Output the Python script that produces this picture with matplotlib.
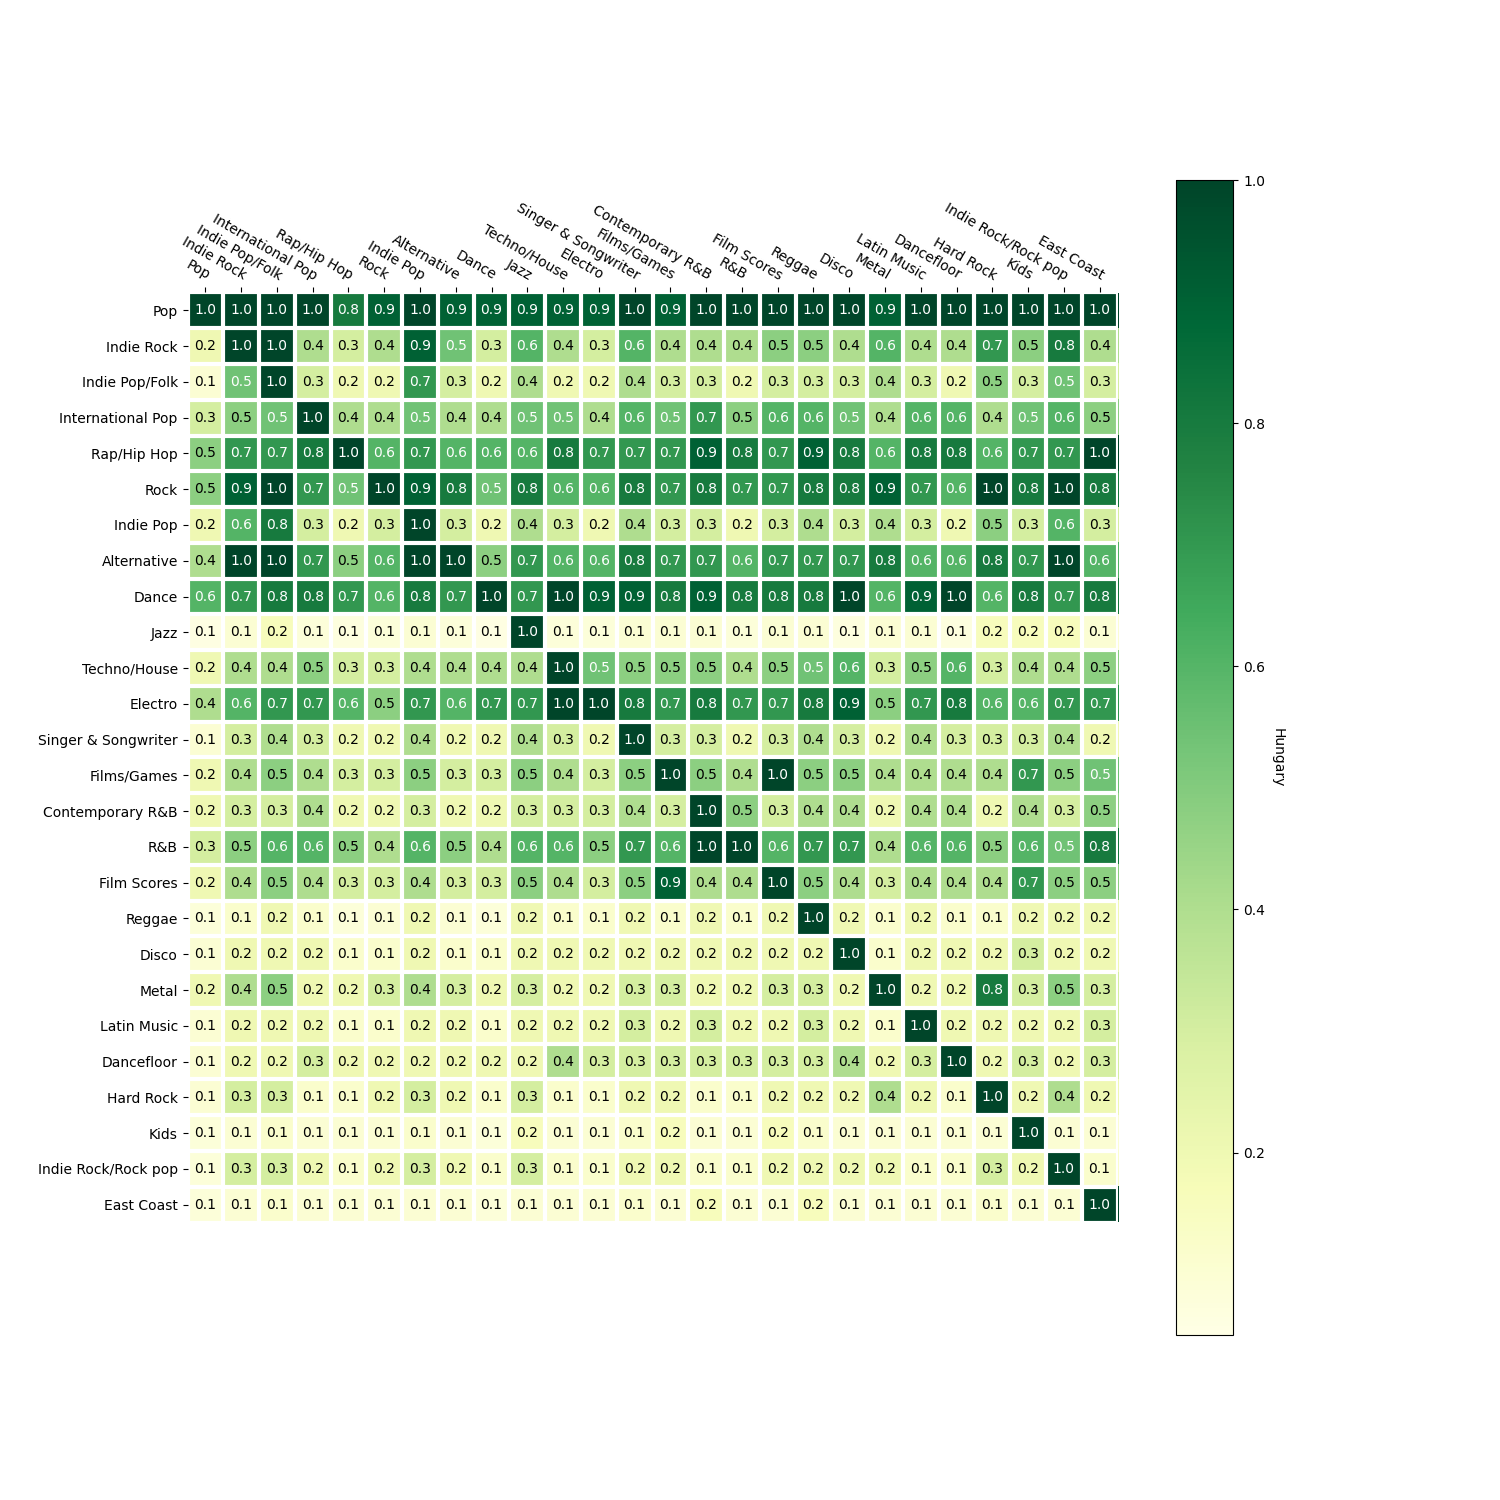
import matplotlib
matplotlib.use("Agg")
import matplotlib.pyplot as plt
import numpy as np

# genre co-listening similarity, Hungary
genres = ["Pop", "Indie Rock", "Indie Pop/Folk", "International Pop", "Rap/Hip Hop",
          "Rock", "Indie Pop", "Alternative", "Dance", "Jazz", "Techno/House",
          "Electro", "Singer & Songwriter", "Films/Games", "Contemporary R&B",
          "R&B", "Film Scores", "Reggae", "Disco", "Metal", "Latin Music",
          "Dancefloor", "Hard Rock", "Kids", "Indie Rock/Rock pop", "East Coast"]

# one list per row (0.54 -> "0.5" on dark cell, 0.48 -> "0.5" on light cell)
pop = [1.0, 1.0, 1.0, 1.0, 0.8, 0.9, 1.0, 0.9, 0.9, 0.9, 0.9, 0.9, 1.0,
       0.9, 1.0, 1.0, 1.0, 1.0, 1.0, 0.9, 1.0, 1.0, 1.0, 1.0, 1.0, 1.0]
indie_rock = [0.2, 1.0, 1.0, 0.4, 0.3, 0.4, 0.9, 0.54, 0.3, 0.6, 0.4, 0.3, 0.6,
              0.4, 0.4, 0.4, 0.48, 0.48, 0.4, 0.6, 0.4, 0.4, 0.7, 0.48, 0.8, 0.4]
indie_pop_folk = [0.1, 0.54, 1.0, 0.3, 0.2, 0.2, 0.7, 0.3, 0.2, 0.4, 0.2, 0.2, 0.4,
                  0.3, 0.3, 0.2, 0.3, 0.3, 0.3, 0.4, 0.3, 0.2, 0.48, 0.3, 0.54, 0.3]
international_pop = [0.3, 0.48, 0.54, 1.0, 0.4, 0.4, 0.54, 0.4, 0.4, 0.54, 0.54, 0.4, 0.6,
                     0.54, 0.7, 0.48, 0.6, 0.6, 0.54, 0.4, 0.6, 0.6, 0.4, 0.54, 0.6, 0.48]
rap_hip_hop = [0.48, 0.7, 0.7, 0.8, 1.0, 0.6, 0.7, 0.6, 0.6, 0.6, 0.8, 0.7, 0.7,
               0.7, 0.9, 0.8, 0.7, 0.9, 0.8, 0.6, 0.8, 0.8, 0.6, 0.7, 0.7, 1.0]
rock = [0.48, 0.9, 1.0, 0.7, 0.54, 1.0, 0.9, 0.8, 0.54, 0.8, 0.6, 0.6, 0.8,
        0.7, 0.8, 0.7, 0.7, 0.8, 0.8, 0.9, 0.7, 0.6, 1.0, 0.8, 1.0, 0.8]
indie_pop = [0.2, 0.6, 0.8, 0.3, 0.2, 0.3, 1.0, 0.3, 0.2, 0.4, 0.3, 0.2, 0.4,
             0.3, 0.3, 0.2, 0.3, 0.4, 0.3, 0.4, 0.3, 0.2, 0.48, 0.3, 0.6, 0.3]
alternative = [0.4, 1.0, 1.0, 0.7, 0.48, 0.6, 1.0, 1.0, 0.48, 0.7, 0.6, 0.6, 0.8,
               0.7, 0.7, 0.6, 0.7, 0.7, 0.7, 0.8, 0.6, 0.6, 0.8, 0.7, 1.0, 0.6]
dance = [0.6, 0.7, 0.8, 0.8, 0.7, 0.6, 0.8, 0.7, 1.0, 0.7, 1.0, 0.9, 0.9,
         0.8, 0.9, 0.8, 0.8, 0.8, 1.0, 0.6, 0.9, 1.0, 0.6, 0.8, 0.7, 0.8]
jazz = [0.06, 0.1, 0.16, 0.08, 0.07, 0.08, 0.1, 0.08, 0.06, 1.0, 0.08, 0.08, 0.1,
        0.1, 0.1, 0.08, 0.1, 0.1, 0.07, 0.1, 0.1, 0.07, 0.16, 0.16, 0.16, 0.1]
techno_house = [0.2, 0.4, 0.4, 0.48, 0.3, 0.3, 0.4, 0.4, 0.4, 0.4, 1.0, 0.54, 0.48,
                0.48, 0.48, 0.4, 0.48, 0.54, 0.6, 0.3, 0.48, 0.6, 0.3, 0.4, 0.4, 0.48]
electro = [0.4, 0.6, 0.7, 0.7, 0.6, 0.48, 0.7, 0.6, 0.7, 0.7, 1.0, 1.0, 0.8,
           0.7, 0.8, 0.7, 0.7, 0.8, 0.9, 0.48, 0.7, 0.8, 0.6, 0.6, 0.7, 0.7]
singer_songwriter = [0.1, 0.3, 0.4, 0.3, 0.2, 0.2, 0.4, 0.2, 0.2, 0.4, 0.3, 0.2, 1.0,
                     0.3, 0.3, 0.2, 0.3, 0.4, 0.3, 0.2, 0.4, 0.3, 0.3, 0.3, 0.4, 0.2]
films_games = [0.2, 0.4, 0.48, 0.4, 0.3, 0.3, 0.48, 0.3, 0.3, 0.48, 0.4, 0.3, 0.48,
               1.0, 0.48, 0.4, 1.0, 0.48, 0.48, 0.4, 0.4, 0.4, 0.4, 0.7, 0.48, 0.54]
contemporary_rnb = [0.2, 0.3, 0.3, 0.4, 0.2, 0.2, 0.3, 0.2, 0.2, 0.3, 0.3, 0.3, 0.4,
                    0.3, 1.0, 0.48, 0.3, 0.4, 0.4, 0.2, 0.4, 0.4, 0.2, 0.4, 0.3, 0.48]
rnb = [0.3, 0.48, 0.6, 0.6, 0.48, 0.4, 0.6, 0.48, 0.4, 0.6, 0.6, 0.48, 0.7,
       0.6, 1.0, 1.0, 0.6, 0.7, 0.7, 0.4, 0.6, 0.6, 0.48, 0.6, 0.54, 0.8]
film_scores = [0.2, 0.4, 0.48, 0.4, 0.3, 0.3, 0.4, 0.3, 0.3, 0.48, 0.4, 0.3, 0.48,
               0.9, 0.4, 0.4, 1.0, 0.48, 0.4, 0.3, 0.4, 0.4, 0.4, 0.7, 0.48, 0.48]
reggae = [0.08, 0.12, 0.2, 0.12, 0.08, 0.1, 0.2, 0.1, 0.08, 0.2, 0.12, 0.12, 0.2,
          0.12, 0.2, 0.12, 0.2, 1.0, 0.2, 0.12, 0.2, 0.12, 0.12, 0.2, 0.2, 0.2]
disco = [0.1, 0.2, 0.2, 0.2, 0.12, 0.12, 0.2, 0.12, 0.12, 0.2, 0.2, 0.2, 0.2,
         0.2, 0.2, 0.2, 0.2, 0.2, 1.0, 0.12, 0.2, 0.2, 0.2, 0.3, 0.2, 0.2]
metal = [0.2, 0.4, 0.48, 0.2, 0.2, 0.3, 0.4, 0.3, 0.2, 0.3, 0.2, 0.2, 0.3,
         0.3, 0.2, 0.2, 0.3, 0.3, 0.2, 1.0, 0.2, 0.2, 0.8, 0.3, 0.48, 0.3]
latin_music = [0.1, 0.2, 0.2, 0.2, 0.12, 0.12, 0.2, 0.2, 0.12, 0.2, 0.2, 0.2, 0.3,
               0.2, 0.3, 0.2, 0.2, 0.3, 0.2, 0.12, 1.0, 0.2, 0.2, 0.2, 0.2, 0.3]
dancefloor = [0.1, 0.2, 0.2, 0.3, 0.2, 0.2, 0.2, 0.2, 0.2, 0.2, 0.4, 0.3, 0.3,
              0.3, 0.3, 0.3, 0.3, 0.3, 0.4, 0.2, 0.3, 1.0, 0.2, 0.3, 0.2, 0.3]
hard_rock = [0.1, 0.3, 0.3, 0.12, 0.12, 0.2, 0.3, 0.2, 0.12, 0.3, 0.12, 0.12, 0.2,
             0.2, 0.12, 0.12, 0.2, 0.2, 0.2, 0.4, 0.2, 0.12, 1.0, 0.2, 0.4, 0.2]
kids = [0.08, 0.1, 0.12, 0.1, 0.1, 0.1, 0.12, 0.1, 0.08, 0.16, 0.1, 0.1, 0.12,
        0.16, 0.1, 0.1, 0.16, 0.12, 0.1, 0.1, 0.1, 0.1, 0.1, 1.0, 0.1, 0.1]
indie_rock_rock_pop = [0.08, 0.3, 0.3, 0.2, 0.12, 0.2, 0.3, 0.2, 0.12, 0.3, 0.12, 0.12, 0.2,
                       0.2, 0.12, 0.12, 0.2, 0.2, 0.2, 0.2, 0.12, 0.12, 0.3, 0.2, 1.0, 0.12]
east_coast = [0.08, 0.1, 0.12, 0.1, 0.1, 0.1, 0.1, 0.1, 0.08, 0.1, 0.1, 0.1, 0.12,
              0.1, 0.16, 0.1, 0.1, 0.16, 0.1, 0.1, 0.1, 0.1, 0.12, 0.1, 0.1, 1.0]

data = np.array([pop, indie_rock, indie_pop_folk, international_pop, rap_hip_hop,
                 rock, indie_pop, alternative, dance, jazz, techno_house, electro,
                 singer_songwriter, films_games, contemporary_rnb, rnb, film_scores,
                 reggae, disco, metal, latin_music, dancefloor, hard_rock, kids,
                 indie_rock_rock_pop, east_coast])


def heatmap(data, row_labels, col_labels, ax, cbarlabel=""):
    im = ax.imshow(data, cmap="YlGn", vmin=0.05, vmax=1.0)

    cbar = ax.figure.colorbar(im, ax=ax)
    cbar.ax.set_ylabel(cbarlabel, rotation=-90, va="bottom")

    ax.set_xticks(np.arange(data.shape[1]), labels=col_labels)
    ax.set_yticks(np.arange(data.shape[0]), labels=row_labels)

    # labels on top, tilted
    ax.tick_params(top=True, bottom=False, labeltop=True, labelbottom=False)
    plt.setp(ax.get_xticklabels(), rotation=-30, ha="right", rotation_mode="anchor")

    ax.spines[:].set_visible(False)
    ax.set_xticks(np.arange(data.shape[1] + 1) - .5, minor=True)
    ax.set_yticks(np.arange(data.shape[0] + 1) - .5, minor=True)
    ax.grid(which="minor", color="w", linestyle="-", linewidth=3)
    ax.tick_params(which="minor", bottom=False, left=False)
    return im, cbar


def annotate(im, data):
    threshold = im.norm(data.max()) / 2.
    for i in range(data.shape[0]):
        for j in range(data.shape[1]):
            col = "white" if im.norm(data[i, j]) > threshold else "black"
            im.axes.text(j, i, f"{data[i, j]:.1f}", ha="center", va="center", color=col)


fig, ax = plt.subplots(figsize=(15, 15))
im, cbar = heatmap(data, genres, genres, ax, cbarlabel="Hungary")
annotate(im, data)
fig.savefig("out.png", dpi=100)
